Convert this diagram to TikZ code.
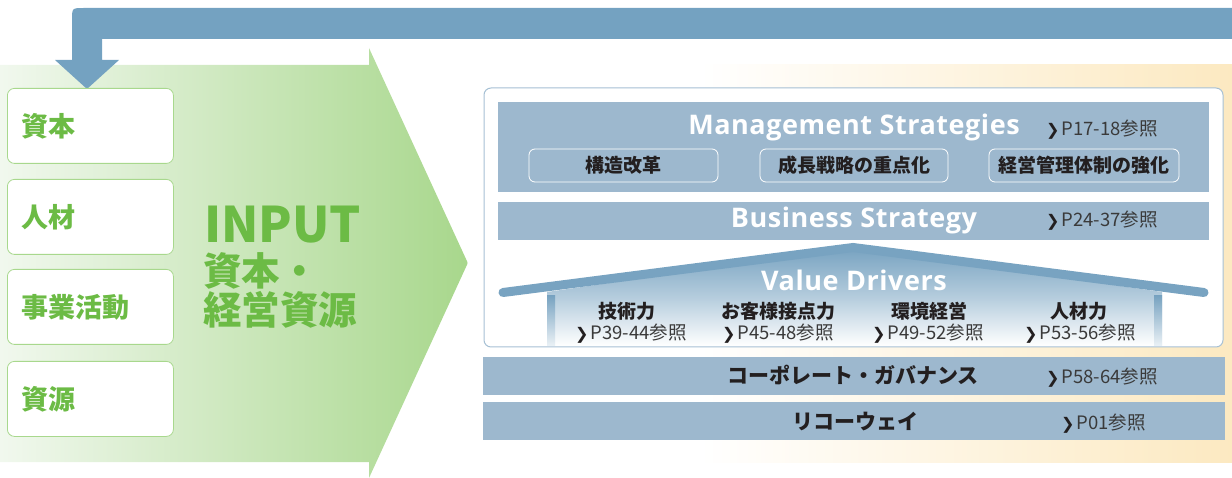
\documentclass[tikz,border=0pt]{standalone}
\usepackage{fontspec}
\newfontfamily\jp{Noto Sans CJK JP}
\newfontfamily\lat{Open Sans}[LetterSpace=2]
\newfontfamily\dv{DejaVu Sans}
\definecolor{band}{HTML}{9DB8CE}
\definecolor{arrowblue}{HTML}{74A2C1}
\definecolor{gtext}{HTML}{6CBB45}
\definecolor{gborder}{HTML}{A8D88D}
\definecolor{gleft}{HTML}{F1F8EE}
\definecolor{gright}{HTML}{A8D78C}
\definecolor{ylw}{HTML}{FCE9C1}
\definecolor{boxborder}{HTML}{A6C0D4}
\definecolor{reftext}{HTML}{3A3A3A}
\definecolor{darktext}{HTML}{231F20}
\definecolor{roofblue}{HTML}{78A3C1}
\newcommand{\refp}[1]{{\dv\fontsize{16}{16}\selectfont\color{darktext}❯}\kern2pt #1}
\tikzset{
  leftbox/.style={draw=gborder, fill=white, rounded corners=7pt, line width=0.8pt,
    anchor=north west, minimum width=166pt, minimum height=75pt, text width=138pt,
    inner xsep=14pt, align=left, text=gtext, font=\jp\bfseries\fontsize{27}{30}\selectfont},
  bandtitle/.style={anchor=base, text=white, inner sep=0pt, font=\lat\bfseries\fontsize{27}{30}\selectfont},
  refnode/.style={anchor=base west, inner sep=0pt, text=reftext, font=\jp\fontsize{18.5}{19}\selectfont},
  subbox/.style={draw=white, rounded corners=6pt, line width=0.8pt, text=darktext,
    font=\jp\bfseries\fontsize{19}{20}\selectfont, inner sep=0pt},
  vdtitle/.style={anchor=base, inner sep=0pt, text=darktext, font=\jp\bfseries\fontsize{19}{20}\selectfont},
  vdref/.style={anchor=base, inner sep=0pt, text=reftext, font=\jp\fontsize{18.5}{19}\selectfont},
  bigtitle/.style={anchor=base, inner sep=0pt, text=darktext, font=\jp\bfseries\fontsize{21}{22}\selectfont},
  inputtext/.style={anchor=base west, inner sep=0pt, text=gtext},
}
\begin{document}
\begin{tikzpicture}[x=1pt,y=-1pt]
\useasboundingbox (0,0) rectangle (1232,478);
% yellow backdrop
\shade[left color=white, right color=ylw] (700,65) rectangle (1232,462);
% green input arrow
\shade[left color=gleft, right color=gright]
  (0,65) -- (369,65) -- (369,48) -- (466,259) .. controls (468,263) .. (466,267) -- (369,478) -- (369,462) -- (0,462) -- cycle;
% blue feedback arrow
\fill[arrowblue] (1232,39) -- (102,39) -- (102,60) -- (119,60) -- (87,89) -- (55,60) -- (72,60)
  -- (72,20) .. controls (72,8) .. (84,8) -- (1232,8) -- cycle;
% left boxes
\node[leftbox] (capital) at (7,88) {資本};
\node[leftbox] (people) at (7,179) {人材};
\node[leftbox] (business) at (7,269) {事業活動};
\node[leftbox] (resources) at (7,361) {資源};
% INPUT text
\node[inputtext, font=\jp\bfseries\fontsize{49}{50}\selectfont] (input) at (204,243) {INPUT};
\node[inputtext, font=\jp\bfseries\fontsize{38.5}{40}\selectfont] (input2) at (203,286) {資本・};
\node[inputtext, font=\jp\bfseries\fontsize{38.5}{40}\selectfont] (input3) at (203,325) {経営資源};
% big white frame
\draw[boxborder, fill=white, rounded corners=7pt, line width=1pt] (484,88) rectangle (1223,347);
% management strategies band
\fill[band] (498,102) rectangle (1209,192);
\node[bandtitle] (ms) at (854,135) {Management Strategies};
\node[refnode] (msref) at (1046,136) {\refp{P17-18参照}};
\node[subbox, minimum width=189pt, minimum height=33pt] (s1) at (623.5,165.5) {構造改革};
\node[subbox, minimum width=188pt, minimum height=33pt] (s2) at (854,165.5) {成長戦略の重点化};
\node[subbox, minimum width=190pt, minimum height=33pt] (s3) at (1084,165.5) {経営管理体制の強化};
% business strategy band
\fill[band] (498,202) rectangle (1209,240);
\node[bandtitle] (bs) at (854,228) {Business Strategy};
\node[refnode] (bsref) at (1046,227) {\refp{P24-37参照}};
% value drivers house
\shade[top color=roofblue, bottom color=white, middle color={roofblue!55!white}]
  (547,292) -- (853,248) -- (1162,292) -- (1162,346) -- (547,346) -- cycle;
\shade[top color=roofblue, bottom color={roofblue!15!white}] (547,296) rectangle (555,346);
\shade[top color=roofblue, bottom color={roofblue!15!white}] (1154,296) rectangle (1162,346);
\draw[roofblue, line width=9pt, line cap=round, line join=miter] (503,292.5) -- (853,247.5) -- (1204,292.5);
\node[bandtitle] (vd) at (854,291) {Value Drivers};
\node[vdtitle] (v1) at (627,319) {技術力};
\node[vdtitle] (v2) at (778,319) {お客様接点力};
\node[vdtitle] (v3) at (929,319) {環境経営};
\node[vdtitle] (v4) at (1079,319) {人材力};
\node[vdref] (v1r) at (631,340) {\refp{P39-44参照}};
\node[vdref] (v2r) at (778,340) {\refp{P45-48参照}};
\node[vdref] (v3r) at (928,340) {\refp{P49-52参照}};
\node[vdref] (v4r) at (1080,340) {\refp{P53-56参照}};
% bottom bands
\fill[band] (483,357) rectangle (1225,395);
\node[bigtitle] (cg) at (853,384) {コーポレート・ガバナンス};
\node[refnode] (cgref) at (1046,384) {\refp{P58-64参照}};
\fill[band] (483,402) rectangle (1225,440);
\node[bigtitle] (rw) at (855,429) {リコーウェイ};
\node[refnode] (rwref) at (1061,429) {\refp{P01参照}};
\end{tikzpicture}
\end{document}
